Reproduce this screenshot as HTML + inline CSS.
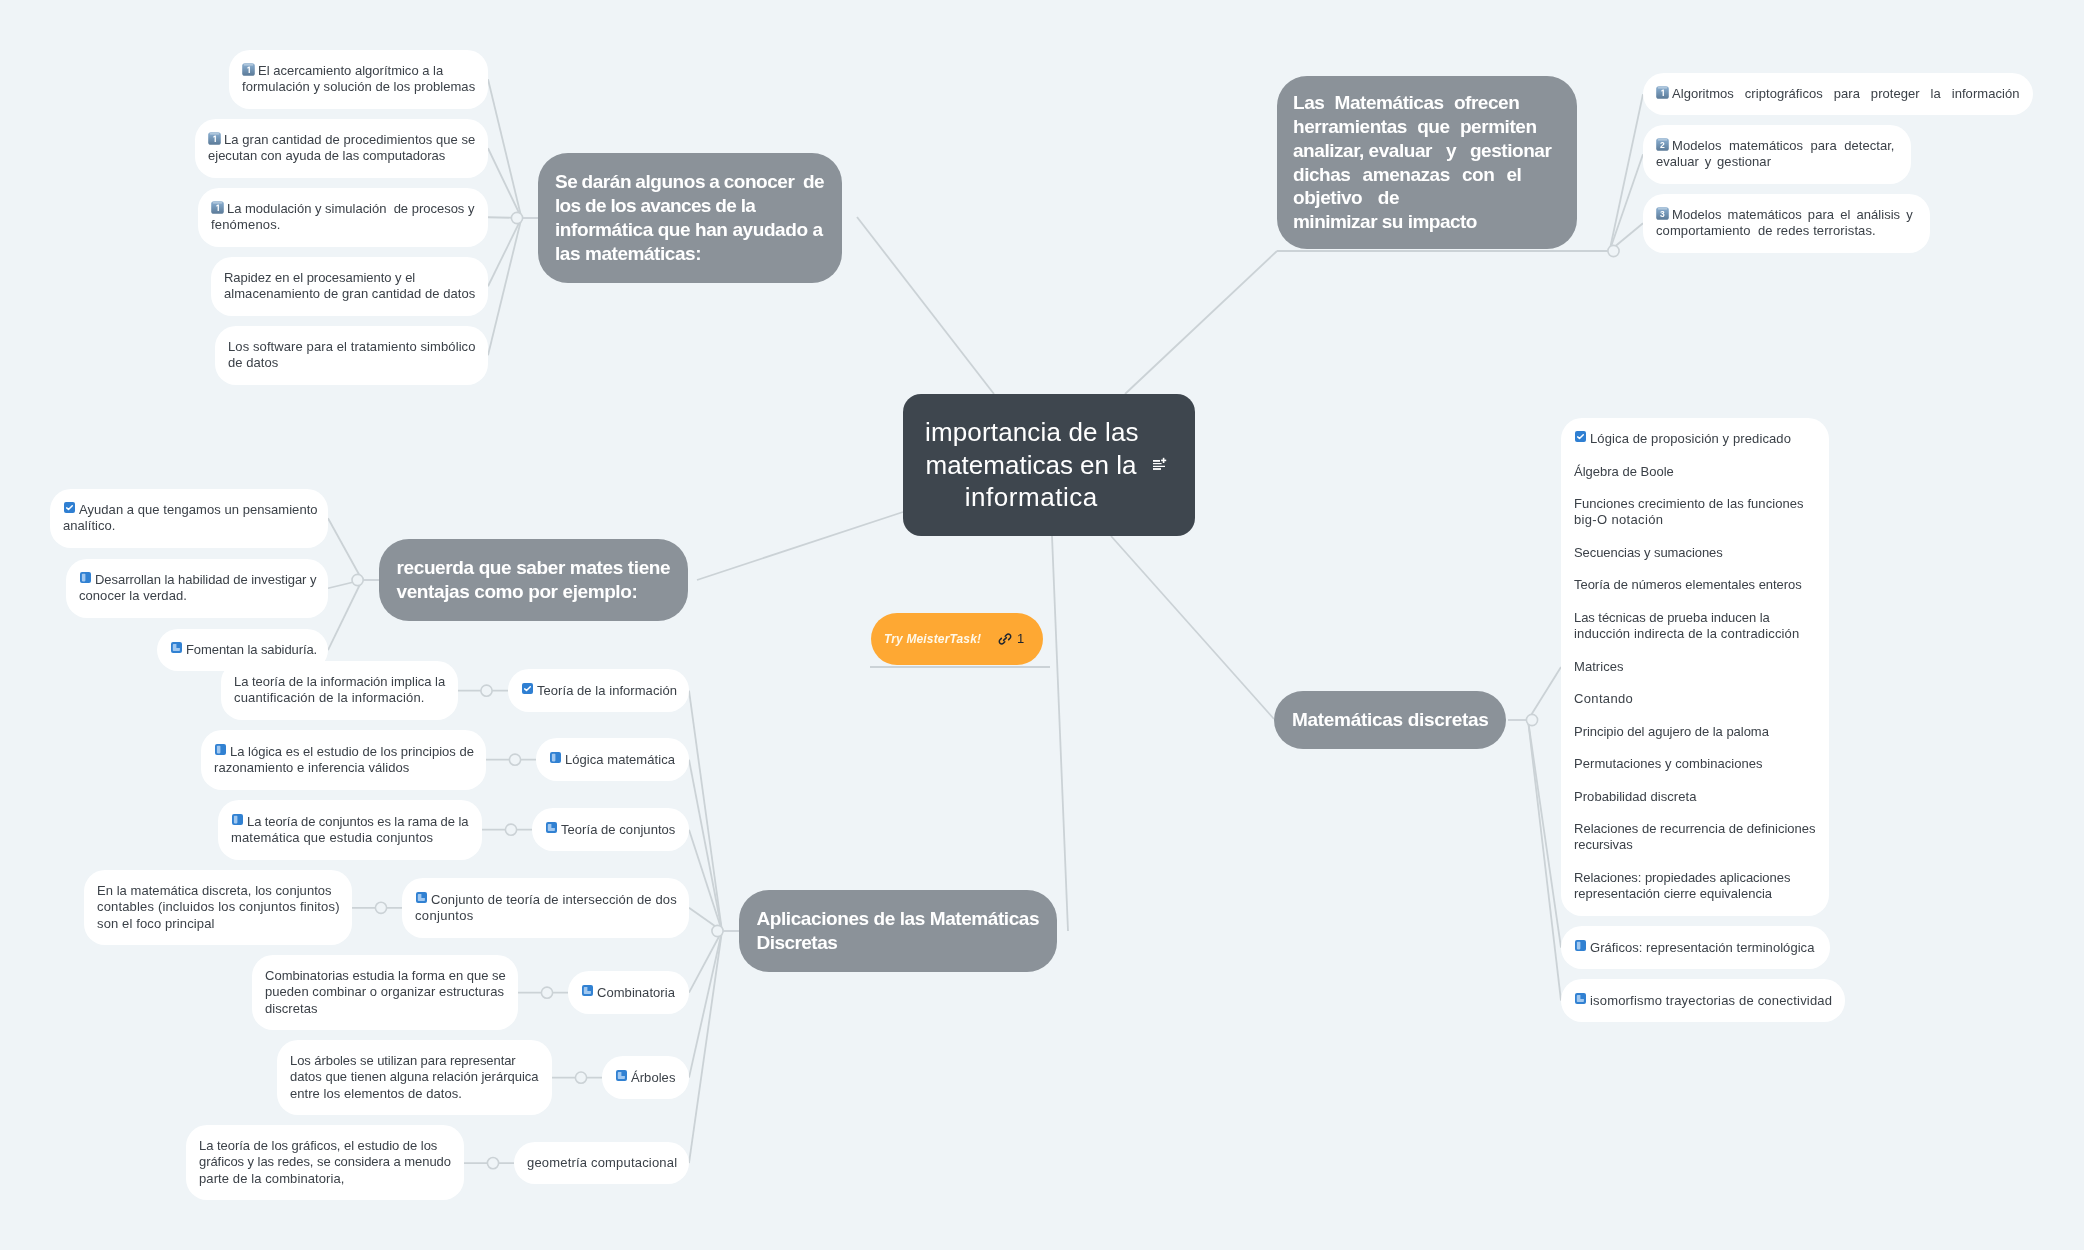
<!DOCTYPE html><html><head><meta charset="utf-8"><title>importancia de las matematicas en la informatica</title><style>
*{margin:0;padding:0;box-sizing:border-box}
html,body{width:2084px;height:1250px;overflow:hidden;background:#eff4f7}
body{position:relative;font-family:"Liberation Sans",sans-serif;-webkit-font-smoothing:antialiased}
.n,.center,.mt{will-change:transform}
svg.lines{position:absolute;left:0;top:0}
svg.lines line{stroke:#cbd2d6;stroke-width:1.8}
svg.lines circle{stroke:#cbd2d6;stroke-width:1.6;fill:#eff4f7}
.n{position:absolute;background:#fff;border-radius:21px;padding:13.1px 13px 0;
 font-size:13px;line-height:16.25px;color:#3b4148;white-space:pre;letter-spacing:0.05px}
.l{height:16.25px}
.ic{display:inline-block;vertical-align:1px;margin-left:1px;margin-right:4px}
.ic.k{vertical-align:-1px;margin-left:0;margin-right:3px}
.g{background:#8b9299;color:#fff;font-weight:bold;font-size:19px;line-height:23.85px;border-radius:30px;letter-spacing:-0.45px}
.g .l{height:23.85px}
.gd{border-radius:29px}
.big{padding-top:13px}
.big .p{margin-bottom:16.25px}
.center{position:absolute;left:903px;top:394px;width:292px;height:142px;background:#3e464e;border-radius:18px;color:#fff}
.ct{position:absolute;left:22px;top:22px;width:212px;text-align:center;font-size:26px;line-height:32.6px;white-space:nowrap}
.notes{position:absolute;left:250px;top:63px}
.mt{position:absolute;left:871px;top:613px;width:172px;height:52px;background:#fea833;border-radius:26px}
.mtt{position:absolute;left:13px;top:18.7px;font-size:12px;font-weight:bold;font-style:italic;color:#fff8e8;white-space:nowrap;letter-spacing:0.15px}
.lk{position:absolute;left:127px;top:18.5px}
.mtn{position:absolute;left:146px;top:17.7px;font-size:13px;color:#1f2630}
</style></head><body><svg class="lines" width="2084" height="1250"><defs><linearGradient id="kg" x1="0" y1="0" x2="0" y2="1"><stop offset="0" stop-color="#8fb0cf"/><stop offset="0.3" stop-color="#7da1c3"/><stop offset="1" stop-color="#5b7a97"/></linearGradient></defs><line x1="488" y1="79.25" x2="521.5" y2="218"/><line x1="488" y1="148.25" x2="521.5" y2="218"/><line x1="488" y1="217.25" x2="521.5" y2="218"/><line x1="488" y1="286.25" x2="521.5" y2="218"/><line x1="488" y1="355.25" x2="521.5" y2="218"/><line x1="517" y1="218" x2="538" y2="218"/><line x1="857" y1="217" x2="994" y2="394"/><line x1="1277" y1="251" x2="1613.5" y2="251"/><line x1="1277" y1="251" x2="1125" y2="394"/><line x1="1643" y1="94.125" x2="1609.5" y2="251"/><line x1="1643" y1="154.25" x2="1609.5" y2="251"/><line x1="1643" y1="223.25" x2="1609.5" y2="251"/><line x1="328" y1="518.25" x2="362.1" y2="580"/><line x1="328" y1="588.25" x2="362.1" y2="580"/><line x1="328" y1="650.125" x2="362.1" y2="580"/><line x1="357.6" y1="580" x2="379" y2="580"/><line x1="697" y1="580" x2="903" y2="512"/><line x1="1111" y1="536" x2="1274" y2="719"/><line x1="1508" y1="720" x2="1532" y2="720"/><line x1="1561" y1="667" x2="1528" y2="720"/><line x1="1561" y1="947.675" x2="1528" y2="720"/><line x1="1561" y1="1000.67" x2="1528" y2="720"/><line x1="1052" y1="536" x2="1068" y2="931"/><line x1="717.5" y1="931" x2="739" y2="931"/><line x1="689" y1="690.675" x2="722" y2="931"/><line x1="458" y1="690.675" x2="508" y2="690.675"/><line x1="689" y1="759.675" x2="722" y2="931"/><line x1="486" y1="759.675" x2="536" y2="759.675"/><line x1="689" y1="829.675" x2="722" y2="931"/><line x1="482" y1="829.675" x2="532" y2="829.675"/><line x1="689" y1="907.8" x2="722" y2="931"/><line x1="352" y1="907.8" x2="402" y2="907.8"/><line x1="689" y1="992.675" x2="722" y2="931"/><line x1="518" y1="992.675" x2="568" y2="992.675"/><line x1="689" y1="1077.67" x2="722" y2="931"/><line x1="552" y1="1077.67" x2="602" y2="1077.67"/><line x1="689" y1="1163.12" x2="722" y2="931"/><line x1="464" y1="1163.12" x2="514" y2="1163.12"/><line x1="870" y1="667" x2="1050" y2="667"/><circle cx="517" cy="218" r="5.6"/><circle cx="1613.5" cy="251" r="5.6"/><circle cx="357.6" cy="580" r="5.6"/><circle cx="1532" cy="720" r="5.6"/><circle cx="486.5" cy="690.675" r="5.6"/><circle cx="515" cy="759.675" r="5.6"/><circle cx="511" cy="829.675" r="5.6"/><circle cx="381" cy="907.8" r="5.6"/><circle cx="547" cy="992.675" r="5.6"/><circle cx="581" cy="1077.67" r="5.6"/><circle cx="493" cy="1163.12" r="5.6"/><circle cx="717.5" cy="931" r="5.6"/></svg><div class="n g" style="left:538px;top:153px;width:304px;height:130px;padding-top:17.05px;padding-left:17px;"><div class="l" style="word-spacing:-0.57px;">Se darán algunos a conocer  de</div><div class="l" style="letter-spacing:-0.68px;">los de los avances de la</div><div class="l" style="letter-spacing:-0.42px;">informática que han ayudado a</div><div class="l" style="letter-spacing:-0.44px;">las matemáticas:</div></div><div class="n" style="left:229px;top:50px;width:259px;height:58.5px;"><div class="l" style="letter-spacing:0.008px;"><svg class="ic k" width="13" height="13" viewBox="0 0 13 13"><rect x="0.2" y="0.2" width="12.6" height="12.6" rx="2.6" fill="url(#kg)"/><rect x="1.7" y="1.2" width="9.6" height="1.2" rx="0.6" fill="#c4d6e6" opacity="0.85"/><path d="M5.2 4.6 L6.9 3.4 H7.9 V9.9 H6.6 V5.1 L5.6 5.8 Z" fill="#fff"/></svg>El acercamiento algorítmico a la</div><div class="l">formulación y solución de los problemas</div></div><div class="n" style="left:195px;top:119px;width:293px;height:58.5px;"><div class="l"><svg class="ic k" width="13" height="13" viewBox="0 0 13 13"><rect x="0.2" y="0.2" width="12.6" height="12.6" rx="2.6" fill="url(#kg)"/><rect x="1.7" y="1.2" width="9.6" height="1.2" rx="0.6" fill="#c4d6e6" opacity="0.85"/><path d="M5.2 4.6 L6.9 3.4 H7.9 V9.9 H6.6 V5.1 L5.6 5.8 Z" fill="#fff"/></svg>La gran cantidad de procedimientos que se</div><div class="l" style="letter-spacing:0.007px;">ejecutan con ayuda de las computadoras</div></div><div class="n" style="left:198px;top:188px;width:290px;height:58.5px;"><div class="l" style="letter-spacing:-0.010px;"><svg class="ic k" width="13" height="13" viewBox="0 0 13 13"><rect x="0.2" y="0.2" width="12.6" height="12.6" rx="2.6" fill="url(#kg)"/><rect x="1.7" y="1.2" width="9.6" height="1.2" rx="0.6" fill="#c4d6e6" opacity="0.85"/><path d="M5.2 4.6 L6.9 3.4 H7.9 V9.9 H6.6 V5.1 L5.6 5.8 Z" fill="#fff"/></svg>La modulación y simulación  de procesos y</div><div class="l" style="letter-spacing:0.172px;">fenómenos.</div></div><div class="n" style="left:211px;top:257px;width:277px;height:58.5px;"><div class="l" style="letter-spacing:-0.031px;">Rapidez en el procesamiento y el</div><div class="l">almacenamiento de gran cantidad de datos</div></div><div class="n" style="left:215px;top:326px;width:273px;height:58.5px;"><div class="l" style="letter-spacing:0.096px;">Los software para el tratamiento simbólico</div><div class="l">de datos</div></div><div class="n g gb" style="left:1277px;top:76px;width:300px;height:173px;padding-top:15px;padding-left:16px;"><div class="l" style="word-spacing:0.27px;">Las  Matemáticas  ofrecen</div><div class="l" style="word-spacing:0.31px;">herramientas  que  permiten</div><div class="l" style="word-spacing:-0.19px;">analizar, evaluar   y   gestionar</div><div class="l" style="word-spacing:-0.79px;">dichas   amenazas   con   el</div><div class="l" style="word-spacing:0.35px;">objetivo   de</div><div class="l" style="letter-spacing:-0.52px;">minimizar su impacto</div></div><div class="n" style="left:1643px;top:73px;width:390px;height:42.25px;"><div class="l" style="word-spacing:7.25px;"><svg class="ic k" width="13" height="13" viewBox="0 0 13 13"><rect x="0.2" y="0.2" width="12.6" height="12.6" rx="2.6" fill="url(#kg)"/><rect x="1.7" y="1.2" width="9.6" height="1.2" rx="0.6" fill="#c4d6e6" opacity="0.85"/><path d="M5.2 4.6 L6.9 3.4 H7.9 V9.9 H6.6 V5.1 L5.6 5.8 Z" fill="#fff"/></svg>Algoritmos criptográficos para proteger la información</div></div><div class="n" style="left:1643px;top:125px;width:268px;height:58.5px;"><div class="l" style="word-spacing:3.75px;"><svg class="ic k" width="13" height="13" viewBox="0 0 13 13"><rect x="0.2" y="0.2" width="12.6" height="12.6" rx="2.6" fill="url(#kg)"/><rect x="1.7" y="1.2" width="9.6" height="1.2" rx="0.6" fill="#c4d6e6" opacity="0.85"/><text x="6.5" y="9.9" font-family="Liberation Sans, sans-serif" font-weight="bold" font-size="8.5" fill="#fff" text-anchor="middle">2</text></svg>Modelos matemáticos para detectar,</div><div class="l" style="word-spacing:2.11px;">evaluar y gestionar</div></div><div class="n" style="left:1643px;top:194px;width:287px;height:58.5px;"><div class="l" style="word-spacing:2.40px;"><svg class="ic k" width="13" height="13" viewBox="0 0 13 13"><rect x="0.2" y="0.2" width="12.6" height="12.6" rx="2.6" fill="url(#kg)"/><rect x="1.7" y="1.2" width="9.6" height="1.2" rx="0.6" fill="#c4d6e6" opacity="0.85"/><text x="6.5" y="9.9" font-family="Liberation Sans, sans-serif" font-weight="bold" font-size="8.5" fill="#fff" text-anchor="middle">3</text></svg>Modelos matemáticos para el análisis y</div><div class="l" style="letter-spacing:0.100px;">comportamiento  de redes terroristas.</div></div><div class="n g" style="left:379px;top:539px;width:309px;height:82px;padding-top:16.9px;padding-left:17.5px;"><div class="l" style="letter-spacing:-0.38px;">recuerda que saber mates tiene</div><div class="l" style="letter-spacing:-0.40px;">ventajas como por ejemplo:</div></div><div class="n" style="left:50px;top:489px;width:278px;height:58.5px;"><div class="l"><svg class="ic" width="11" height="11" viewBox="0 0 11 11"><rect x="0" y="0" width="11" height="11" rx="2" fill="#2f7fd2"/><path d="M2.7 5.9 L4.5 7.5 L8.3 3.8" stroke="#fff" stroke-width="1.5" fill="none" stroke-linecap="round" stroke-linejoin="round"/></svg>Ayudan a que tengamos un pensamiento</div><div class="l">analítico.</div></div><div class="n" style="left:66px;top:559px;width:262px;height:58.5px;"><div class="l" style="letter-spacing:-0.047px;"><svg class="ic" width="11" height="11" viewBox="0 0 11 11"><rect x="0" y="0" width="11" height="11" rx="2" fill="#3181d2"/><rect x="1.9" y="1.8" width="3.5" height="7.6" rx="0.8" fill="#a1c8f0"/></svg>Desarrollan la habilidad de investigar y</div><div class="l">conocer la verdad.</div></div><div class="n" style="left:157px;top:629px;width:171px;height:42.25px;"><div class="l" style="letter-spacing:-0.083px;"><svg class="ic" width="11" height="11" viewBox="0 0 11 11"><rect x="0" y="0" width="11" height="11" rx="2" fill="#3181d2"/><path d="M2.6 2.1 H5.4 V6 H8.9 V8.3 Q8.9 9.1 8.1 9.1 H2.6 Q1.8 9.1 1.8 8.3 V2.9 Q1.8 2.1 2.6 2.1 Z" fill="#a1c8f0"/></svg>Fomentan la sabiduría.</div></div><div class="n g gd" style="left:1274px;top:691px;width:232px;height:58px;padding-top:16.8px;padding-left:18px;"><div class="l" style="letter-spacing:-0.30px;">Matemáticas discretas</div></div><div class="n big" style="left:1561px;top:418px;width:268px;height:498px;"><div class="p"><div class="l" style="letter-spacing:0.113px;"><svg class="ic" width="11" height="11" viewBox="0 0 11 11"><rect x="0" y="0" width="11" height="11" rx="2" fill="#2f7fd2"/><path d="M2.7 5.9 L4.5 7.5 L8.3 3.8" stroke="#fff" stroke-width="1.5" fill="none" stroke-linecap="round" stroke-linejoin="round"/></svg>Lógica de proposición y predicado</div></div><div class="p"><div class="l" style="letter-spacing:0.003px;">Álgebra de Boole</div></div><div class="p"><div class="l">Funciones crecimiento de las funciones</div><div class="l" style="letter-spacing:0.342px;">big-O notación</div></div><div class="p"><div class="l" style="letter-spacing:-0.073px;">Secuencias y sumaciones</div></div><div class="p"><div class="l" style="letter-spacing:-0.036px;">Teoría de números elementales enteros</div></div><div class="p"><div class="l" style="letter-spacing:-0.050px;">Las técnicas de prueba inducen la</div><div class="l" style="letter-spacing:0.145px;">inducción indirecta de la contradicción</div></div><div class="p"><div class="l">Matrices</div></div><div class="p"><div class="l" style="letter-spacing:0.350px;">Contando</div></div><div class="p"><div class="l" style="letter-spacing:-0.029px;">Principio del agujero de la paloma</div></div><div class="p"><div class="l">Permutaciones y combinaciones</div></div><div class="p"><div class="l">Probabilidad discreta</div></div><div class="p"><div class="l" style="letter-spacing:0.005px;">Relaciones de recurrencia de definiciones</div><div class="l" style="letter-spacing:-0.061px;">recursivas</div></div><div class="p"><div class="l" style="letter-spacing:-0.053px;">Relaciones: propiedades aplicaciones</div><div class="l" style="letter-spacing:0.002px;">representación cierre equivalencia</div></div></div><div class="n" style="left:1561px;top:926px;width:269px;height:43.35px;padding-top:14.1px;"><div class="l"><svg class="ic" width="11" height="11" viewBox="0 0 11 11"><rect x="0" y="0" width="11" height="11" rx="2" fill="#3181d2"/><rect x="1.9" y="1.8" width="3.5" height="7.6" rx="0.8" fill="#a1c8f0"/></svg>Gráficos: representación terminológica</div></div><div class="n" style="left:1561px;top:979px;width:284px;height:43.35px;padding-top:14.1px;"><div class="l" style="letter-spacing:0.183px;"><svg class="ic" width="11" height="11" viewBox="0 0 11 11"><rect x="0" y="0" width="11" height="11" rx="2" fill="#3181d2"/><path d="M2.6 2.1 H5.4 V6 H8.9 V8.3 Q8.9 9.1 8.1 9.1 H2.6 Q1.8 9.1 1.8 8.3 V2.9 Q1.8 2.1 2.6 2.1 Z" fill="#a1c8f0"/></svg>isomorfismo trayectorias de conectividad</div></div><div class="n g" style="left:739px;top:890px;width:318px;height:82px;padding-top:17.2px;padding-left:17.5px;"><div class="l" style="letter-spacing:-0.42px;">Aplicaciones de las Matemáticas</div><div class="l" style="letter-spacing:-0.54px;">Discretas</div></div><div class="n" style="left:508px;top:669px;width:181px;height:43.35px;padding-top:14.1px;"><div class="l"><svg class="ic" width="11" height="11" viewBox="0 0 11 11"><rect x="0" y="0" width="11" height="11" rx="2" fill="#2f7fd2"/><path d="M2.7 5.9 L4.5 7.5 L8.3 3.8" stroke="#fff" stroke-width="1.5" fill="none" stroke-linecap="round" stroke-linejoin="round"/></svg>Teoría de la información</div></div><div class="n" style="left:221px;top:661px;width:237px;height:58.5px;"><div class="l" style="letter-spacing:-0.015px;">La teoría de la información implica la</div><div class="l" style="letter-spacing:0.169px;">cuantificación de la información.</div></div><div class="n" style="left:536px;top:738px;width:153px;height:43.35px;padding-top:14.1px;"><div class="l"><svg class="ic" width="11" height="11" viewBox="0 0 11 11"><rect x="0" y="0" width="11" height="11" rx="2" fill="#3181d2"/><rect x="1.9" y="1.8" width="3.5" height="7.6" rx="0.8" fill="#a1c8f0"/></svg>Lógica matemática</div></div><div class="n" style="left:201px;top:730px;width:285px;height:59.6px;padding-top:14.1px;"><div class="l" style="letter-spacing:0.008px;"><svg class="ic" width="11" height="11" viewBox="0 0 11 11"><rect x="0" y="0" width="11" height="11" rx="2" fill="#3181d2"/><rect x="1.9" y="1.8" width="3.5" height="7.6" rx="0.8" fill="#a1c8f0"/></svg>La lógica es el estudio de los principios de</div><div class="l">razonamiento e inferencia válidos</div></div><div class="n" style="left:532px;top:808px;width:157px;height:43.35px;padding-top:14.1px;"><div class="l"><svg class="ic" width="11" height="11" viewBox="0 0 11 11"><rect x="0" y="0" width="11" height="11" rx="2" fill="#3181d2"/><path d="M2.6 2.1 H5.4 V6 H8.9 V8.3 Q8.9 9.1 8.1 9.1 H2.6 Q1.8 9.1 1.8 8.3 V2.9 Q1.8 2.1 2.6 2.1 Z" fill="#a1c8f0"/></svg>Teoría de conjuntos</div></div><div class="n" style="left:218px;top:800px;width:264px;height:59.6px;padding-top:14.1px;"><div class="l" style="letter-spacing:-0.087px;"><svg class="ic" width="11" height="11" viewBox="0 0 11 11"><rect x="0" y="0" width="11" height="11" rx="2" fill="#3181d2"/><rect x="1.9" y="1.8" width="3.5" height="7.6" rx="0.8" fill="#a1c8f0"/></svg>La teoría de conjuntos es la rama de la</div><div class="l" style="letter-spacing:0.153px;">matemática que estudia conjuntos</div></div><div class="n" style="left:402px;top:878px;width:287px;height:59.6px;padding-top:14.1px;"><div class="l" style="letter-spacing:0.125px;"><svg class="ic" width="11" height="11" viewBox="0 0 11 11"><rect x="0" y="0" width="11" height="11" rx="2" fill="#3181d2"/><path d="M2.6 2.1 H5.4 V6 H8.9 V8.3 Q8.9 9.1 8.1 9.1 H2.6 Q1.8 9.1 1.8 8.3 V2.9 Q1.8 2.1 2.6 2.1 Z" fill="#a1c8f0"/></svg>Conjunto de teoría de intersección de dos</div><div class="l" style="letter-spacing:0.325px;">conjuntos</div></div><div class="n" style="left:84px;top:870px;width:268px;height:74.75px;"><div class="l">En la matemática discreta, los conjuntos</div><div class="l" style="letter-spacing:0.164px;">contables (incluidos los conjuntos finitos)</div><div class="l" style="letter-spacing:0.125px;">son el foco principal</div></div><div class="n" style="left:568px;top:971px;width:121px;height:43.35px;padding-top:14.1px;"><div class="l"><svg class="ic" width="11" height="11" viewBox="0 0 11 11"><rect x="0" y="0" width="11" height="11" rx="2" fill="#3181d2"/><path d="M2.6 2.1 H5.4 V6 H8.9 V8.3 Q8.9 9.1 8.1 9.1 H2.6 Q1.8 9.1 1.8 8.3 V2.9 Q1.8 2.1 2.6 2.1 Z" fill="#a1c8f0"/></svg>Combinatoria</div></div><div class="n" style="left:252px;top:955px;width:266px;height:74.75px;"><div class="l" style="letter-spacing:0.004px;">Combinatorias estudia la forma en que se</div><div class="l">pueden combinar o organizar estructuras</div><div class="l">discretas</div></div><div class="n" style="left:602px;top:1056px;width:87px;height:43.35px;padding-top:14.1px;"><div class="l"><svg class="ic" width="11" height="11" viewBox="0 0 11 11"><rect x="0" y="0" width="11" height="11" rx="2" fill="#3181d2"/><path d="M2.6 2.1 H5.4 V6 H8.9 V8.3 Q8.9 9.1 8.1 9.1 H2.6 Q1.8 9.1 1.8 8.3 V2.9 Q1.8 2.1 2.6 2.1 Z" fill="#a1c8f0"/></svg>Árboles</div></div><div class="n" style="left:277px;top:1040px;width:275px;height:74.75px;"><div class="l" style="letter-spacing:-0.068px;">Los árboles se utilizan para representar</div><div class="l" style="letter-spacing:-0.002px;">datos que tienen alguna relación jerárquica</div><div class="l">entre los elementos de datos.</div></div><div class="n" style="left:514px;top:1142px;width:175px;height:42.25px;"><div class="l" style="letter-spacing:0.186px;">geometría computacional</div></div><div class="n" style="left:186px;top:1125px;width:278px;height:74.75px;"><div class="l" style="letter-spacing:-0.036px;">La teoría de los gráficos, el estudio de los</div><div class="l" style="letter-spacing:-0.057px;">gráficos y las redes, se considera a menudo</div><div class="l" style="letter-spacing:0.100px;">parte de la combinatoria,</div></div><div class="center"><div class="ct"><div style="letter-spacing:0.15px">importancia de las</div><div>matematicas en la</div><div style="letter-spacing:0.55px;padding-left:0.55px">informatica</div></div><svg class="notes" width="14" height="13" viewBox="0 0 14 13"><g fill="#fff"><rect x="0" y="3" width="7" height="1.8"/><rect x="0" y="6" width="8.6" height="1.2"/><rect x="0" y="8.8" width="12" height="1.2"/><rect x="0" y="11.1" width="8" height="1.8"/><rect x="8.1" y="2.6" width="5.1" height="1.6"/><rect x="9.8" y="0.8" width="1.6" height="5.2"/></g></svg></div><div class="mt"><span class="mtt">Try MeisterTask!</span><svg class="lk" width="14" height="14" viewBox="0 0 14 14"><g fill="none" stroke="#1f2630" stroke-width="1.5" stroke-linecap="round"><path d="M5.6 8.4 L8.4 5.6"/><path d="M7.2 4.2 L8.6 2.8 a2.4 2.4 0 0 1 3.4 3.4 L10.6 7.6"/><path d="M6.8 9.8 L5.4 11.2 a2.4 2.4 0 0 1 -3.4 -3.4 L3.4 6.4"/></g></svg><span class="mtn">1</span></div></body></html>
